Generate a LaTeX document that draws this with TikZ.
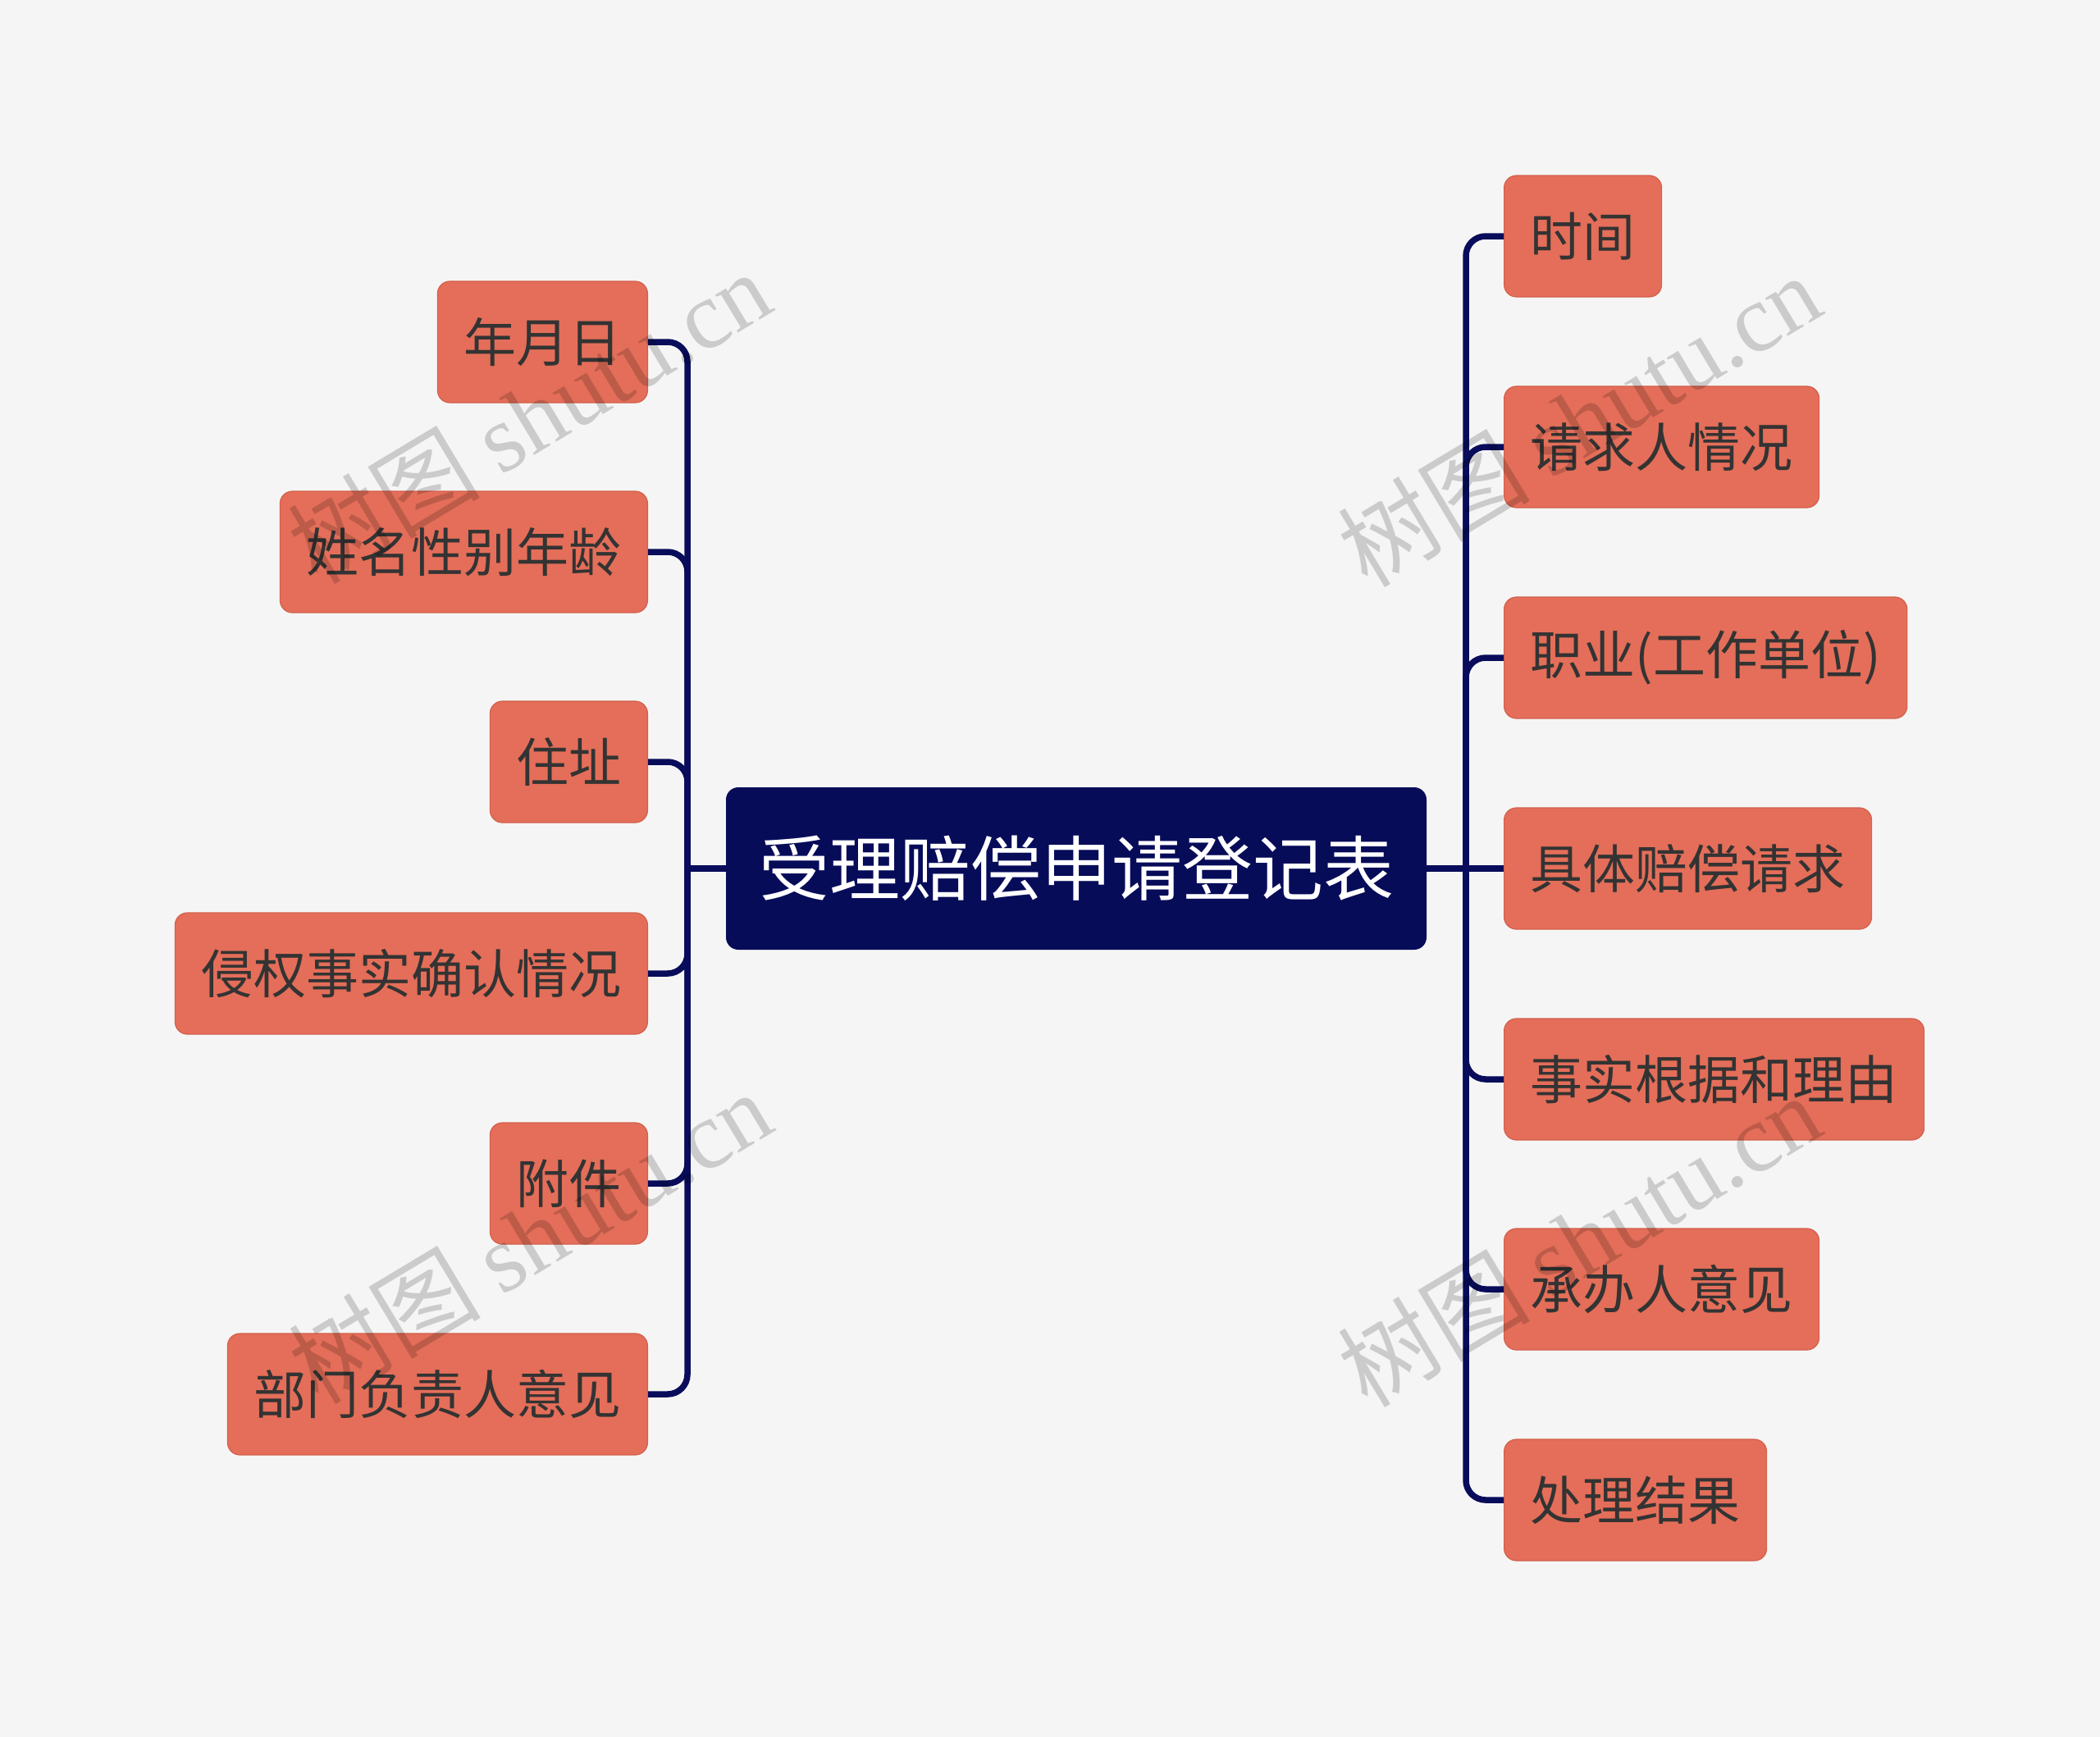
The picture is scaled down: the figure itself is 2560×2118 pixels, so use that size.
\documentclass[tikz,border=0pt]{standalone}
\usepackage{fontspec}
\setmainfont{Noto Sans CJK SC}
\newfontfamily\cjkfont{Noto Sans CJK SC}
\newfontfamily\wmlatin{Liberation Serif}
\definecolor{bgcol}{HTML}{F5F5F5}
\definecolor{leaffill}{HTML}{E46E59}
\definecolor{leafline}{HTML}{D3604C}
\definecolor{leaftext}{HTML}{333333}
\definecolor{navy}{HTML}{070C59}
\definecolor{connc}{HTML}{080C5A}
\begin{document}
\begin{tikzpicture}[x=1pt,y=-1pt,
  leaf/.style={draw=leafline, line width=1.2pt, fill=leaffill, rounded corners=15pt,
    minimum height=148pt, inner xsep=32pt, inner ysep=0pt, text=leaftext,
    font=\cjkfont\fontsize{64}{64}\selectfont},
  rootbox/.style={fill=navy, rounded corners=15pt, minimum width=854pt, minimum height=198pt,
    inner sep=0pt, text=white, font=\cjkfont\fontsize{86}{86}\selectfont},
  conn/.style={draw=connc, line width=7.5pt, line cap=butt},
  elbow/.style={conn, rounded corners=24pt},
  wm/.style={text=black, opacity=0.17, inner sep=0pt, font=\fontsize{117}{117}\selectfont, rotate=31}
]
\fill[bgcol] (0,0) rectangle (2560,2118);
\useasboundingbox (0,0) rectangle (2560,2118);

% root
\node[rootbox] (root) at (1312,1059) {受理赔偿申请登记表};

% left children
\node[leaf, anchor=east] (l1) at (790,417)  {年月日};
\node[leaf, anchor=east] (l2) at (790,673)  {姓名性别年龄};
\node[leaf, anchor=east] (l3) at (790,929)  {住址};
\node[leaf, anchor=east] (l4) at (790,1187) {侵权事实确认情况};
\node[leaf, anchor=east] (l5) at (790,1443) {附件};
\node[leaf, anchor=east] (l6) at (790,1700) {部门负责人意见};

% right children
\node[leaf, anchor=west] (r1) at (1833,288)  {时间};
\node[leaf, anchor=west] (r2) at (1833,545)  {请求人情况};
\node[leaf, anchor=west] (r3) at (1833,802)  {职业(工作单位)};
\node[leaf, anchor=west] (r4) at (1833,1059) {具体赔偿请求};
\node[leaf, anchor=west] (r5) at (1833,1316) {事实根据和理由};
\node[leaf, anchor=west] (r6) at (1833,1572) {承办人意见};
\node[leaf, anchor=west] (r7) at (1833,1829) {处理结果};

% junctions
\coordinate (LJ) at (838,1059);
\coordinate (RJ) at (1787,1059);

\draw[conn] (root.west) -- (LJ);
\draw[conn] (root.east) -- (RJ);
\foreach \c in {l1,l2,l3,l4,l5,l6} {
  \draw[elbow] (LJ) |- (\c.east);
}
\foreach \c in {r1,r2,r3,r5,r6,r7} {
  \draw[elbow] (RJ) |- (\c.west);
}
\draw[conn] (RJ) -- (r4.west);

% watermarks
\node[wm] (w1) at (645,508)  {{\cjkfont 树图} {\wmlatin shutu.cn}};
\node[wm] (w2) at (1925,512) {{\cjkfont 树图} {\wmlatin shutu.cn}};
\node[wm] (w3) at (646,1508) {{\cjkfont 树图} {\wmlatin shutu.cn}};
\node[wm] (w4) at (1925,1512) {{\cjkfont 树图} {\wmlatin shutu.cn}};
\end{tikzpicture}
\end{document}
